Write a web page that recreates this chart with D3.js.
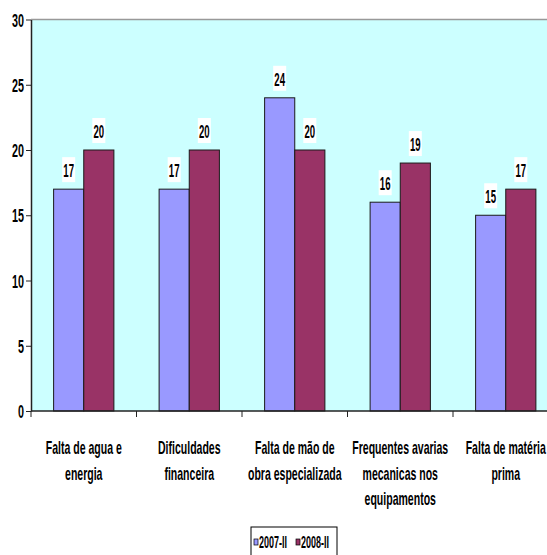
<!DOCTYPE html>
<html>
<head>
<meta charset="utf-8">
<script src="https://cdn.jsdelivr.net/npm/d3@7"></script>
<style>
  html, body { margin: 0; padding: 0; background: #ffffff; }
  svg { display: block; }
  text { font-family: "Liberation Sans", Arial, sans-serif; font-weight: bold; fill: #000; }
</style>
</head>
<body>
<svg id="chart" width="547" height="555"></svg>
<script>
// Problem categories (label lines) and the two survey rounds
const categories = [
  ["Falta de agua e", "energia"],
  ["Dificuldades", "financeira"],
  ["Falta de mão de", "obra especializada"],
  ["Frequentes avarias", "mecanicas nos", "equipamentos"],
  ["Falta de matéria", "prima"]
];
const seriesNames = ["2007-II", "2008-II"];
const values2007 = [17, 17, 24, 16, 15];
const values2008 = [20, 20, 20, 19, 17];
const yTicks = [0, 5, 10, 15, 20, 25, 30];
const colors = ["#9999FF", "#993366"];

const svg = d3.select("#chart");
const plot = { left: 31, right: 558.5, top: 19.5, bottom: 411 };

const keys = categories.map((c, i) => "c" + i);
const x = d3.scaleBand().domain(keys).range([plot.left, plot.right]).padding(0);
const xInner = d3.scaleBand().domain(seriesNames).range([0, x.bandwidth()])
  .paddingInner(0).paddingOuter(0.75);
const y = d3.scaleLinear().domain([0, 30]).range([plot.bottom, plot.top]);

// plot background
svg.append("rect")
  .attr("x", plot.left).attr("y", plot.top)
  .attr("width", plot.right - plot.left).attr("height", plot.bottom - plot.top)
  .attr("fill", "#CCFFFF");
// top border
svg.append("line")
  .attr("x1", plot.left).attr("x2", plot.right)
  .attr("y1", plot.top).attr("y2", plot.top)
  .attr("stroke", "#999999").attr("stroke-width", 1.5);

// bars
const data = keys.map((k, i) => ({ key: k, vals: [values2007[i], values2008[i]] }));
const groups = svg.append("g").selectAll("g").data(data).join("g")
  .attr("transform", d => `translate(${x(d.key)},0)`);
groups.selectAll("rect").data(d => d.vals.map((v, j) => ({ v, s: seriesNames[j], j })))
  .join("rect")
  .attr("x", d => xInner(d.s))
  .attr("y", d => y(d.v))
  .attr("width", xInner.bandwidth())
  .attr("height", d => y(0) - y(d.v))
  .attr("fill", d => colors[d.j])
  .attr("stroke", "#1a1a1a").attr("stroke-width", 1);

// value labels with white backing
const lab = groups.selectAll("g.val").data(d => d.vals.map((v, j) => ({ v, s: seriesNames[j], j })))
  .join("g").attr("class", "val")
  .attr("transform", d => `translate(${xInner(d.s) + xInner.bandwidth() / 2},${y(d.v) - 12})`);
lab.append("rect")
  .attr("x", -6.5).attr("y", -20).attr("width", 13).attr("height", 25)
  .attr("fill", "#ffffff");
lab.append("text")
  .attr("text-anchor", "middle")
  .attr("transform", "scale(0.55,1)")
  .attr("font-size", 17.5)
  .text(d => d.v);

// y axis
const yAxis = svg.append("g")
  .attr("transform", `translate(${plot.left},0)`)
  .call(d3.axisLeft(y).tickValues(yTicks).tickSize(5).tickSizeOuter(0));
yAxis.select(".domain").attr("stroke", "#222").attr("stroke-width", 1.5);
yAxis.selectAll(".tick line").attr("stroke", "#222");
yAxis.selectAll(".tick text")
  .attr("x", 0).attr("dy", null).attr("y", 6.5)
  .attr("transform", "translate(-7,0) scale(0.6,1)")
  .attr("font-size", 18).attr("font-family", null).attr("fill", "#000");

// x axis line and category boundary ticks
svg.append("line")
  .attr("x1", plot.left).attr("x2", plot.right)
  .attr("y1", plot.bottom).attr("y2", plot.bottom)
  .attr("stroke", "#222").attr("stroke-width", 1.5);
const bounds = keys.map(k => x(k)).concat([plot.right]);
svg.append("g").selectAll("line").data(bounds).join("line")
  .attr("x1", d => d).attr("x2", d => d)
  .attr("y1", plot.bottom).attr("y2", plot.bottom + 6)
  .attr("stroke", "#222");

// category labels
const catG = svg.append("g").selectAll("g").data(data).join("g")
  .attr("transform", d => `translate(${x(d.key) + x.bandwidth() / 2},0)`);
catG.each(function (d, i) {
  const g = d3.select(this);
  categories[i].forEach((line, li) => {
    g.append("text")
      .attr("text-anchor", "middle")
      .attr("font-size", 18)
      .attr("transform", `translate(0,${454 + li * 25.7}) scale(0.585,1)`)
      .text(line);
  });
});

// legend
const legend = svg.append("g").attr("transform", "translate(251,527)");
legend.append("rect")
  .attr("x", 0).attr("y", 0).attr("width", 86).attr("height", 34)
  .attr("fill", "#ffffff").attr("stroke", "#000").attr("stroke-width", 1);
const items = legend.selectAll("g").data(seriesNames).join("g")
  .attr("transform", (d, i) => `translate(${3 + i * 42},0)`);
items.append("rect")
  .attr("x", 0).attr("y", 12).attr("width", 4).attr("height", 6)
  .attr("fill", (d, i) => colors[i]).attr("stroke", "#000").attr("stroke-width", 0.7);
items.append("text")
  .attr("font-size", 17)
  .attr("transform", "translate(5,21) scale(0.53,1)")
  .text(d => d);
</script>
</body>
</html>
